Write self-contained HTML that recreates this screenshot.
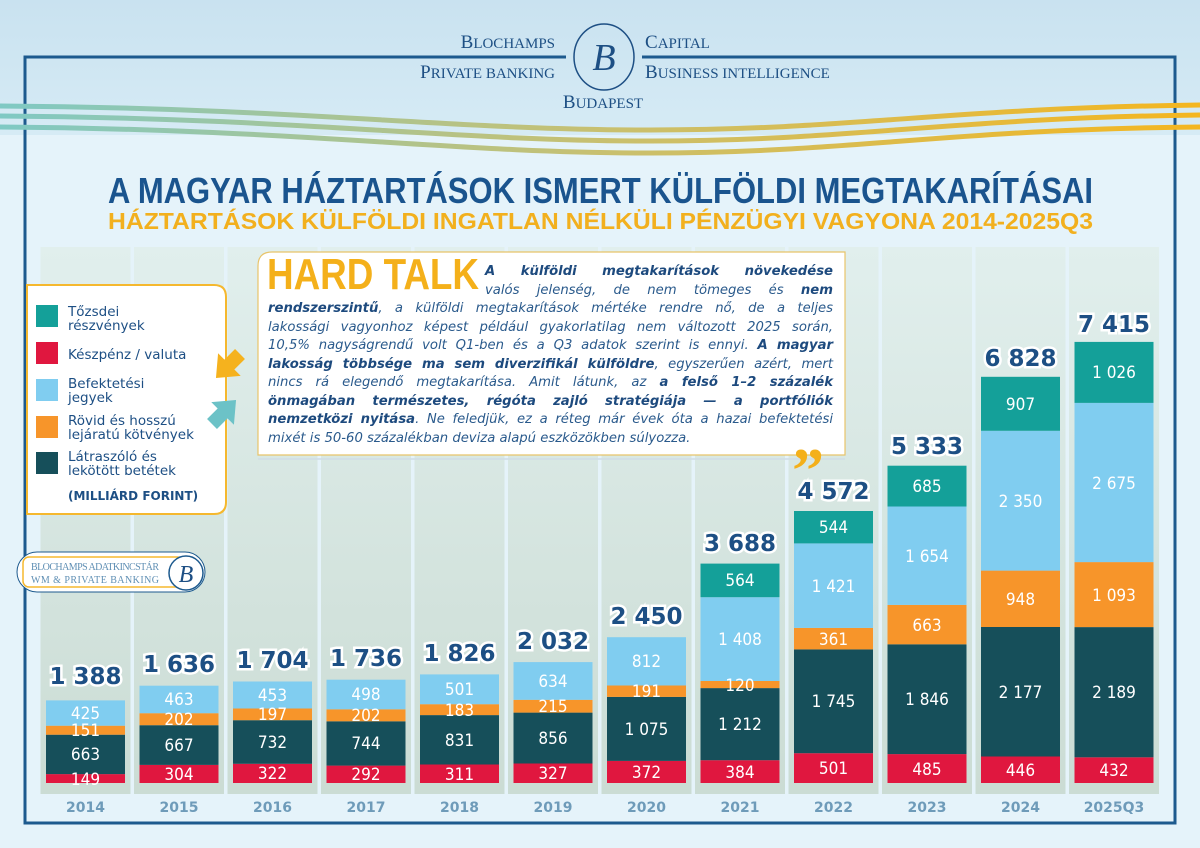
<!DOCTYPE html>
<html><head><meta charset="utf-8"><style>
html,body{margin:0;padding:0;width:1200px;height:848px;overflow:hidden;background:#e5f3fa}
svg{display:block;position:absolute;left:0;top:0}
.sc{font-family:"Liberation Serif",serif;fill:#1d4f84}
.seg{font-family:"DejaVu Sans Condensed","Liberation Sans Narrow","Liberation Sans",sans-serif;font-size:17px;fill:#fff;text-anchor:middle}
.tot{font-family:"DejaVu Sans","Liberation Sans",sans-serif;font-weight:bold;font-size:23px;fill:#1d4f84;stroke:#fff;stroke-width:5px;paint-order:stroke;text-anchor:middle}
.yr{font-family:"DejaVu Sans","Liberation Sans",sans-serif;font-weight:bold;font-size:14px;fill:#6e9bb9;text-anchor:middle}
.lg{font-family:"DejaVu Sans","Liberation Sans",sans-serif;font-size:13.5px;fill:#1d4f84}
.para{position:absolute;font-family:"DejaVu Sans","Liberation Sans",sans-serif;font-style:italic;font-size:13.2px;color:#2a5a8c;line-height:18.5px}
.para div{text-align:justify;text-align-last:justify;white-space:nowrap;overflow:visible}
.para div.l{text-align-last:left}
.para b{color:#1d4a7e}
</style></head><body>
<svg width="1200" height="848" viewBox="0 0 1200 848" xmlns="http://www.w3.org/2000/svg">
<defs>
<linearGradient id="hd" x1="0" y1="0" x2="0" y2="1"><stop offset="0" stop-color="#c9e2f0"/><stop offset="1" stop-color="#d6ebf5"/></linearGradient>
<linearGradient id="wv" x1="0" y1="0" x2="1" y2="0"><stop offset="0" stop-color="#7fc9c4"/><stop offset="0.5" stop-color="#c8c070"/><stop offset="1" stop-color="#f4b61f"/></linearGradient>
<linearGradient id="col" x1="0" y1="0" x2="0" y2="1"><stop offset="0" stop-color="#e1efed"/><stop offset="1" stop-color="#cbdcd4"/></linearGradient>
</defs>
<rect width="1200" height="848" fill="#e5f3fa"/>
<rect width="1200" height="135" fill="url(#hd)"/>
<text class="sc" x="555" y="48" text-anchor="end" font-size="19">B<tspan font-size="15">LOCHAMPS</tspan></text>
<text class="sc" x="645" y="48" font-size="19">C<tspan font-size="15">APITAL</tspan></text>
<text class="sc" x="555" y="78" text-anchor="end" font-size="19">P<tspan font-size="15">RIVATE BANKING</tspan></text>
<text class="sc" x="645" y="78" font-size="19">B<tspan font-size="15">USINESS INTELLIGENCE</tspan></text>
<text class="sc" x="603" y="108" text-anchor="middle" font-size="19">B<tspan font-size="15">UDAPEST</tspan></text>
<ellipse cx="604" cy="57" rx="30" ry="33" fill="none" stroke="#1d4f84" stroke-width="1.5"/>
<text x="604" y="70" text-anchor="middle" font-family="Liberation Serif,serif" font-style="italic" font-size="38" fill="#1d4f84">B</text>
<path d="M566,57 H25 V823 H1175 V57 H642" fill="none" stroke="#1d5a8e" stroke-width="3"/>
<g fill="none" stroke="url(#wv)" stroke-width="5">
<path d="M0,106 C300,108 450,130 650,130 C850,130 950,108 1200,105"/>
<path d="M0,116 C300,118 450,141 650,141 C850,141 950,118 1200,115"/>
<path d="M0,127 C300,129 450,153 650,153 C850,153 950,129 1200,127"/>
</g>
<text x="108" y="203" textLength="985" lengthAdjust="spacingAndGlyphs" font-family="Liberation Sans Narrow,Liberation Sans,sans-serif" font-weight="bold" font-size="36" fill="#1a548e">A MAGYAR HÁZTARTÁSOK ISMERT KÜLFÖLDI MEGTAKARÍTÁSAI</text>
<text x="108" y="229" textLength="985" lengthAdjust="spacingAndGlyphs" font-family="Liberation Sans Narrow,Liberation Sans,sans-serif" font-weight="bold" font-size="23" fill="#f2b01e">HÁZTARTÁSOK KÜLFÖLDI INGATLAN NÉLKÜLI PÉNZÜGYI VAGYONA 2014-2025Q3</text>
<g fill="url(#col)">
<rect x="40.5" y="247" width="90" height="547"/><rect x="134" y="247" width="90" height="547"/><rect x="227.5" y="247" width="90" height="547"/><rect x="321" y="247" width="90" height="547"/><rect x="414.5" y="247" width="90" height="547"/><rect x="508" y="247" width="90" height="547"/><rect x="601.5" y="247" width="90" height="547"/><rect x="695" y="247" width="90" height="547"/><rect x="788.5" y="247" width="90" height="547"/><rect x="882" y="247" width="90" height="547"/><rect x="975.5" y="247" width="90" height="547"/><rect x="1069" y="247" width="90" height="547"/>
</g>
<g>
<rect x="46" y="774.1" width="79" height="8.9" fill="#e0173f"/><rect x="46" y="734.7" width="79" height="39.4" fill="#164f5a"/><rect x="46" y="725.7" width="79" height="9" fill="#f7952a"/><rect x="46" y="700.4" width="79" height="25.3" fill="#80cdf0"/>
<rect x="139.5" y="764.9" width="79" height="18.1" fill="#e0173f"/><rect x="139.5" y="725.2" width="79" height="39.7" fill="#164f5a"/><rect x="139.5" y="713.2" width="79" height="12" fill="#f7952a"/><rect x="139.5" y="685.7" width="79" height="27.5" fill="#80cdf0"/>
<rect x="233" y="763.8" width="79" height="19.2" fill="#e0173f"/><rect x="233" y="720.2" width="79" height="43.6" fill="#164f5a"/><rect x="233" y="708.5" width="79" height="11.7" fill="#f7952a"/><rect x="233" y="681.5" width="79" height="27" fill="#80cdf0"/>
<rect x="326.5" y="765.6" width="79" height="17.4" fill="#e0173f"/><rect x="326.5" y="721.3" width="79" height="44.3" fill="#164f5a"/><rect x="326.5" y="709.3" width="79" height="12" fill="#f7952a"/><rect x="326.5" y="679.7" width="79" height="29.6" fill="#80cdf0"/>
<rect x="420" y="764.5" width="79" height="18.5" fill="#e0173f"/><rect x="420" y="715.1" width="79" height="49.4" fill="#164f5a"/><rect x="420" y="704.2" width="79" height="10.9" fill="#f7952a"/><rect x="420" y="674.4" width="79" height="29.8" fill="#80cdf0"/>
<rect x="513.5" y="763.5" width="79" height="19.5" fill="#e0173f"/><rect x="513.5" y="712.6" width="79" height="50.9" fill="#164f5a"/><rect x="513.5" y="699.8" width="79" height="12.8" fill="#f7952a"/><rect x="513.5" y="662.1" width="79" height="37.7" fill="#80cdf0"/>
<rect x="607" y="760.9" width="79" height="22.1" fill="#e0173f"/><rect x="607" y="696.9" width="79" height="64" fill="#164f5a"/><rect x="607" y="685.5" width="79" height="11.4" fill="#f7952a"/><rect x="607" y="637.2" width="79" height="48.3" fill="#80cdf0"/>
<rect x="700.5" y="760.2" width="79" height="22.8" fill="#e0173f"/><rect x="700.5" y="688.1" width="79" height="72.1" fill="#164f5a"/><rect x="700.5" y="681" width="79" height="7.1" fill="#f7952a"/><rect x="700.5" y="597.2" width="79" height="83.8" fill="#80cdf0"/><rect x="700.5" y="563.6" width="79" height="33.6" fill="#14a099"/>
<rect x="794" y="753.2" width="79" height="29.8" fill="#e0173f"/><rect x="794" y="649.4" width="79" height="103.8" fill="#164f5a"/><rect x="794" y="627.9" width="79" height="21.5" fill="#f7952a"/><rect x="794" y="543.4" width="79" height="84.5" fill="#80cdf0"/><rect x="794" y="511" width="79" height="32.4" fill="#14a099"/>
<rect x="887.5" y="754.1" width="79" height="28.9" fill="#e0173f"/><rect x="887.5" y="644.3" width="79" height="109.8" fill="#164f5a"/><rect x="887.5" y="604.9" width="79" height="39.4" fill="#f7952a"/><rect x="887.5" y="506.5" width="79" height="98.4" fill="#80cdf0"/><rect x="887.5" y="465.7" width="79" height="40.8" fill="#14a099"/>
<rect x="981" y="756.5" width="79" height="26.5" fill="#e0173f"/><rect x="981" y="627" width="79" height="129.5" fill="#164f5a"/><rect x="981" y="570.6" width="79" height="56.4" fill="#f7952a"/><rect x="981" y="430.8" width="79" height="139.8" fill="#80cdf0"/><rect x="981" y="376.8" width="79" height="54" fill="#14a099"/>
<rect x="1074.5" y="757.3" width="79" height="25.7" fill="#e0173f"/><rect x="1074.5" y="627.1" width="79" height="130.2" fill="#164f5a"/><rect x="1074.5" y="562.1" width="79" height="65" fill="#f7952a"/><rect x="1074.5" y="402.9" width="79" height="159.2" fill="#80cdf0"/><rect x="1074.5" y="341.9" width="79" height="61" fill="#14a099"/>
</g>
<g class="seg">
<text x="85.5" y="785">149</text><text x="85.5" y="760">663</text><text x="85.5" y="736">151</text><text x="85.5" y="719">425</text>
<text x="179" y="780">304</text><text x="179" y="751">667</text><text x="179" y="725">202</text><text x="179" y="705">463</text>
<text x="272.5" y="779">322</text><text x="272.5" y="748">732</text><text x="272.5" y="720">197</text><text x="272.5" y="701">453</text>
<text x="366" y="780">292</text><text x="366" y="749">744</text><text x="366" y="721">202</text><text x="366" y="700">498</text>
<text x="459.5" y="780">311</text><text x="459.5" y="746">831</text><text x="459.5" y="716">183</text><text x="459.5" y="695">501</text>
<text x="553" y="779">327</text><text x="553" y="744">856</text><text x="553" y="712">215</text><text x="553" y="687">634</text>
<text x="646.5" y="778">372</text><text x="646.5" y="735">1 075</text><text x="646.5" y="697">191</text><text x="646.5" y="667">812</text>
<text x="740" y="778">384</text><text x="740" y="730">1 212</text><text x="740" y="691">120</text><text x="740" y="645">1 408</text><text x="740" y="586">564</text>
<text x="833.5" y="774">501</text><text x="833.5" y="707">1 745</text><text x="833.5" y="645">361</text><text x="833.5" y="592">1 421</text><text x="833.5" y="533">544</text>
<text x="927" y="775">485</text><text x="927" y="705">1 846</text><text x="927" y="631">663</text><text x="927" y="562">1 654</text><text x="927" y="492">685</text>
<text x="1020.5" y="776">446</text><text x="1020.5" y="698">2 177</text><text x="1020.5" y="605">948</text><text x="1020.5" y="507">2 350</text><text x="1020.5" y="410">907</text>
<text x="1114" y="776">432</text><text x="1114" y="698">2 189</text><text x="1114" y="601">1 093</text><text x="1114" y="489">2 675</text><text x="1114" y="378">1 026</text>
</g>
<g class="tot">
<text x="85.5" y="684">1 388</text><text x="179" y="672">1 636</text><text x="272.5" y="668">1 704</text><text x="366" y="666">1 736</text><text x="459.5" y="661">1 826</text><text x="553" y="649">2 032</text><text x="646.5" y="624">2 450</text><text x="740" y="551">3 688</text><text x="833.5" y="499">4 572</text><text x="927" y="454">5 333</text><text x="1020.5" y="366">6 828</text><text x="1114" y="332">7 415</text>
</g>
<g class="yr">
<text x="85.5" y="812">2014</text><text x="179" y="812">2015</text><text x="272.5" y="812">2016</text><text x="366" y="812">2017</text><text x="459.5" y="812">2018</text><text x="553" y="812">2019</text><text x="646.5" y="812">2020</text><text x="740" y="812">2021</text><text x="833.5" y="812">2022</text><text x="927" y="812">2023</text><text x="1020.5" y="812">2024</text><text x="1114" y="812">2025Q3</text>
</g>
<path d="M27,285 H214 Q226,285 226,297 V502 Q226,514 214,514 H27 Z" fill="#fff" stroke="#f5b82e" stroke-width="2"/>
<rect x="36" y="305" width="22" height="22" fill="#14a099"/>
<rect x="36" y="342" width="22" height="22" fill="#e0173f"/>
<rect x="36" y="379" width="22" height="22" fill="#80cdf0"/>
<rect x="36" y="416" width="22" height="22" fill="#f7952a"/>
<rect x="36" y="452" width="22" height="22" fill="#164f5a"/>
<g class="lg">
<text x="68" y="316">Tőzsdei</text><text x="68" y="330">részvények</text>
<text x="68" y="359">Készpénz / valuta</text>
<text x="68" y="388">Befektetési</text><text x="68" y="402">jegyek</text>
<text x="68" y="425">Rövid és hosszú</text><text x="68" y="439">lejáratú kötvények</text>
<text x="68" y="461">Látraszóló és</text><text x="68" y="475">lekötött betétek</text>
<text x="68" y="500" font-weight="bold" font-size="12">(MILLIÁRD FORINT)</text>
</g>
<path d="M0,-7 H15 V-16 L34,0 L15,16 V7 H0 Z" fill="#f5b21e" transform="translate(240,354) rotate(135)"/>
<path d="M0,-7 H15 V-16 L34,0 L15,16 V7 H0 Z" fill="#6cc2c7" transform="translate(212,424) rotate(-45)"/>
<rect x="17" y="552" width="188" height="40" rx="20" fill="#fff" stroke="#1d5a8e" stroke-width="1"/>
<rect x="23" y="557" width="160" height="30" rx="6" fill="#fff" stroke="#f5b82e" stroke-width="1.5"/>
<circle cx="186" cy="573" r="17" fill="#fff" stroke="#1d5a8e" stroke-width="1.5"/>
<text x="186" y="582" text-anchor="middle" font-family="Liberation Serif,serif" font-style="italic" font-size="24" fill="#1d4f84">B</text>
<text x="31" y="570" font-family="Liberation Serif,serif" font-size="10" fill="#5f8fb4" textLength="128">BLOCHAMPS ADATKINCSTÁR</text>
<text x="31" y="583" font-family="Liberation Serif,serif" font-size="10" fill="#5f8fb4" textLength="128">WM &amp; PRIVATE BANKING</text>
<path d="M258,455 V266 Q258,252 272,252 H845 V455 Z" fill="#fff" stroke="#e8c46a" stroke-width="1.2"/>
<line x1="258" y1="459" x2="845" y2="459" stroke="#cfdde6" stroke-width="1.5"/>
<text x="267" y="289" font-family="Liberation Sans Narrow,Liberation Sans,sans-serif" font-weight="bold" font-size="44" fill="#f4b01a" textLength="212" lengthAdjust="spacingAndGlyphs">HARD TALK</text>
<text x="792" y="492" font-family="Liberation Serif,serif" font-weight="bold" font-size="64" fill="#f4b01a">”</text>
</svg>
<div class="para" style="left:485px;top:263px;width:348px">
<div><b>A külföldi megtakarítások növekedése</b></div>
<div>valós jelenség, de nem tömeges és <b>nem</b></div>
</div>
<div class="para" style="left:268px;top:300px;width:565px">
<div><b>rendszerszintű</b>, a külföldi megtakarítások mértéke rendre nő, de a teljes</div>
<div>lakossági vagyonhoz képest például gyakorlatilag nem változott 2025 során,</div>
<div>10,5% nagyságrendű volt Q1-ben és a Q3 adatok szerint is ennyi. <b>A magyar</b></div>
<div><b>lakosság többsége ma sem diverzifikál külföldre</b>, egyszerűen azért, mert</div>
<div>nincs rá elegendő megtakarítása. Amit látunk, az <b>a felső 1–2 százalék</b></div>
<div><b>önmagában természetes, régóta zajló stratégiája — a portfóliók</b></div>
<div><b>nemzetközi nyitása</b>. Ne feledjük, ez a réteg már évek óta a hazai befektetési</div>
<div class="l">mixét is 50-60 százalékban deviza alapú eszközökben súlyozza.</div>
</div>
</body></html>
